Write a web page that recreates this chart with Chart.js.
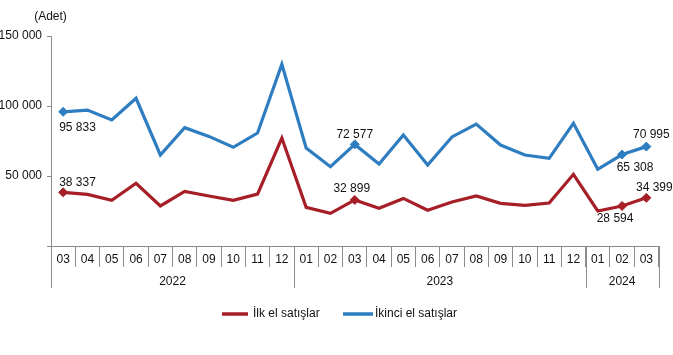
<!DOCTYPE html>
<html><head><meta charset="utf-8">
<script src="https://cdn.jsdelivr.net/npm/chart.js@4/dist/chart.umd.min.js"></script>
<style>html,body{margin:0;padding:0;background:#fff}#wrap{width:673px;height:355px}</style>
</head><body><div id="wrap"><canvas id="c" width="673" height="355"></canvas></div>
<script>
const categories = ['2022-03','2022-04','2022-05','2022-06','2022-07','2022-08','2022-09','2022-10','2022-11','2022-12',
  '2023-01','2023-02','2023-03','2023-04','2023-05','2023-06','2023-07','2023-08','2023-09','2023-10','2023-11','2023-12',
  '2024-01','2024-02','2024-03'];
const monthLabels = categories.map(c => c.split('-')[1]);
const yearOf = categories.map(c => c.split('-')[0]);
const ilkEl = [38337,36900,32600,44800,28600,39000,35700,32600,37100,77100,
  27600,23300,32899,26900,34000,25500,31400,35700,30500,29000,30700,51200,
  25000,28594,34399];
const ikinciEl = [95833,97100,90000,105500,65000,84500,78300,70500,80700,129800,
  70000,56600,72577,58600,79300,57900,77900,87100,72100,65000,62600,87600,
  54800,65308,70995];
const seriesNames = ['İlk el satışlar','İkinci el satışlar'];
const yTicks = [0,50000,100000,150000];
const unitLabel = '(Adet)';
const labeledIdx = [0,12,23,24];

const COLORS = ['#A61E26','#2E7DC0'];
const FONT = "'Liberation Sans', Arial, sans-serif";
Chart.defaults.font.family = FONT;
Chart.defaults.font.size = 12;
Chart.defaults.color = '#111';

const fmt = v => String(v).replace(/\B(?=(\d{3})+(?!\d))/g, ' ');

// label placement per dataset: [dx, dy, align]
const labelPos = [
  {0:[-4,-9.6,'left'], 12:[-3,-11,'center'], 23:[-7,12.7,'center'], 24:[8,-10,'center']},
  {0:[-4,16,'left'], 12:[0,-9.5,'center'], 23:[13,13,'center'], 24:[5,-11.5,'center']}
];

const extras = {
  id:'extras',
  afterDraw(chart){
    const ctx = chart.ctx, x = chart.scales.x, area = chart.chartArea;
    ctx.save();
    ctx.font = '12px ' + FONT; ctx.fillStyle = '#111';
    ctx.textAlign = 'center'; ctx.textBaseline = 'middle';
    ctx.fillText(unitLabel, 50.5, 17);
    const half = (x.getPixelForValue(1) - x.getPixelForValue(0)) / 2;
    const bound = i => x.getPixelForValue(i) - half;
    ctx.strokeStyle = '#8c8c8c'; ctx.lineWidth = 1;
    let start = 0;
    for (let i = 1; i <= categories.length; i++) {
      if (i === categories.length || yearOf[i] !== yearOf[start]) {
        const x0 = bound(start), x1 = bound(i);
        ctx.fillText(yearOf[start], (x0 + x1) / 2, area.bottom + 36);
        start = i;
      }
    }
    const bx = [0];
    for (let i = 1; i < categories.length; i++) if (yearOf[i] !== yearOf[i-1]) bx.push(i);
    bx.push(categories.length);
    bx.forEach(i => {
      const px = Math.round(bound(i)) + 0.5;
      ctx.beginPath(); ctx.moveTo(px, area.bottom); ctx.lineTo(px, area.bottom + 42); ctx.stroke();
    });
    chart.data.datasets.forEach((ds, di) => {
      const meta = chart.getDatasetMeta(di);
      labeledIdx.forEach(i => {
        const p = meta.data[i]; const cfg = labelPos[di][i];
        ctx.textAlign = cfg[2];
        ctx.fillStyle = '#111';
        ctx.fillText(fmt(ds.data[i]), p.x + cfg[0], p.y + cfg[1]);
      });
    });
    const legend = [[222, 248, 253], [343, 373, 375]];
    chart.data.datasets.forEach((ds, di) => {
      const [l0, l1, tx] = legend[di];
      ctx.strokeStyle = ds.borderColor; ctx.lineWidth = 3.5;
      ctx.beginPath(); ctx.moveTo(l0, 314); ctx.lineTo(l1, 314); ctx.stroke();
      ctx.fillStyle = '#111'; ctx.textAlign = 'left';
      ctx.fillText(ds.label, tx, 314);
    });
    ctx.restore();
  }
};

const mkDs = (label, data, color) => ({
  label, data, borderColor: color, backgroundColor: color,
  borderWidth: 3.2, tension: 0, fill: false,
  pointStyle: 'rectRot', pointBorderWidth: 1, pointBorderColor: color, pointBackgroundColor: color,
  pointRadius: c => labeledIdx.includes(c.dataIndex) ? 4.5 : 0,
  pointHoverRadius: 0
});

new Chart(document.getElementById('c'), {
  type: 'line',
  data: { labels: monthLabels, datasets: [mkDs(seriesNames[0], ilkEl, COLORS[0]), mkDs(seriesNames[1], ikinciEl, COLORS[1])] },
  options: {
    responsive: false, animation: false, devicePixelRatio: 1,
    layout: { padding: { top: 36, right: 14.5, bottom: 0, left: 0 } },
    plugins: { legend: { display: false }, tooltip: { enabled: false } },
    scales: {
      x: {
        type: 'category', offset: true,
        grid: { offset: true, drawOnChartArea: false, drawTicks: true, tickLength: 21, color: '#8c8c8c' },
        border: { display: true, color: '#8c8c8c' },
        ticks: { padding: -14.2, color: '#111', font: { size: 12 }, maxRotation: 0, autoSkip: false },
        afterFit: s => { s.height = 109; }
      },
      y: {
        min: 0, max: 150000,
        afterBuildTicks: s => { s.ticks = yTicks.map(v => ({ value: v })); },
        grid: { drawOnChartArea: false, tickLength: 4, color: '#8c8c8c' },
        border: { display: true, color: '#8c8c8c' },
        ticks: { padding: 5, color: '#111', font: { size: 12 }, callback: v => v === 0 ? '' : fmt(v) },
        afterFit: s => { s.width = 51; }
      }
    }
  },
  plugins: [extras]
});
</script>
</body></html>
